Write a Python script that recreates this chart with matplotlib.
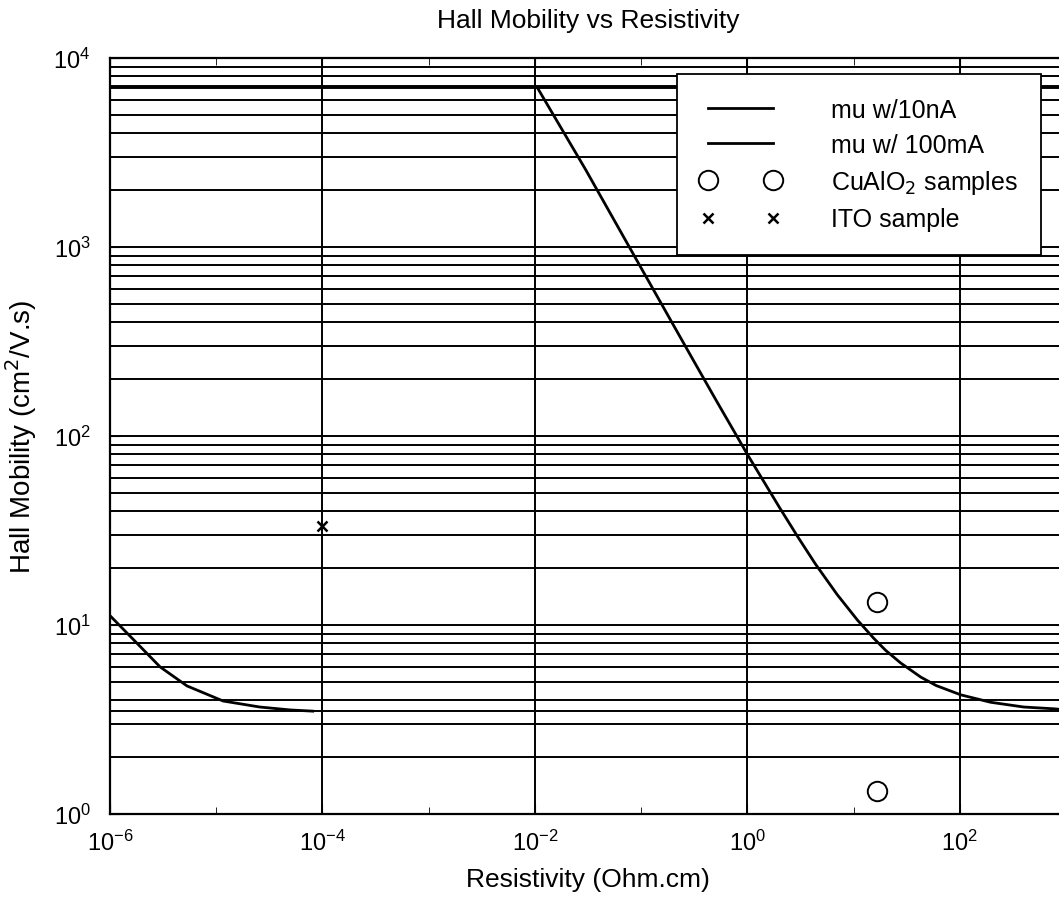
import matplotlib
matplotlib.use("Agg")
import matplotlib.pyplot as plt
from matplotlib.ticker import FixedLocator, NullFormatter

plt.rcParams['font.family'] = ['Liberation Sans', 'DejaVu Sans']

# mu w/10nA
rho_10nA = [1e-6, 1.65e-6, 2.96e-6, 5.3e-6, 1.16e-5, 2.57e-5, 5e-5, 8.1e-5]
mu_10nA = [11.2, 8.4, 6.0, 4.76, 3.96, 3.68, 3.55, 3.5]

# mu w/ 100mA
rho_100mA = [1.05e-2, 0.03, 0.1, 0.3, 0.5, 1.0, 2.0, 2.97, 4.38, 7.0, 10.9, 15.5, 20,
             27.7, 42.9, 60, 102, 195, 400, 776, 1000]
mu_100mA = [7000, 2570, 775, 260, 157, 80, 42, 29.4, 21, 14.5, 10.6, 8.5, 7.35,
            6.3, 5.3, 4.78, 4.27, 3.9, 3.68, 3.6, 3.55]

# samples
cualo2_rho = [16.5, 16.5]
cualo2_mu = [13.2, 1.32]
ito_rho = [1e-4]
ito_mu = [33.4]

# horizontal reference lines seen across the plot
hline_mu = [7000, 3.5]

xlim = (1e-6, 1e3)
ylim = (1, 1e4)

fig = plt.figure(figsize=(10.59, 9.04), dpi=100)
ax = fig.add_axes([0.1039, 0.0985, 0.9027, 0.8362])
ax.set_xscale('log')
ax.set_yscale('log')
ax.set_xlim(*xlim)
ax.set_ylim(*ylim)

# grid: vertical every 2 decades, horizontal at every 1..9 step
ax.xaxis.set_major_locator(FixedLocator([1e-6, 1e-4, 1e-2, 1e0, 1e2]))
ax.xaxis.set_minor_locator(FixedLocator([1e-5, 1e-3, 1e-1, 1e1, 1e3]))
ax.xaxis.set_minor_formatter(NullFormatter())
ax.grid(True, which='major', axis='both', color='black', lw=1.4, ls='-')
ax.grid(True, which='minor', axis='y', color='black', lw=1.4, ls='-')
ax.set_axisbelow(True)

ax.plot(xlim, [hline_mu[0]] * 2, color='black', lw=2.8)
ax.plot(xlim, [hline_mu[1]] * 2, color='black', lw=1.4)

l1, = ax.plot(rho_10nA, mu_10nA, color='black', lw=2.0, label='mu w/10nA')
l2, = ax.plot(rho_100mA, mu_100mA, color='black', lw=2.0, label='mu w/ 100mA')
s1, = ax.plot(cualo2_rho, cualo2_mu, 'o', ms=14, mfc='white', mec='black', mew=1.4,
              label='CuAlO$_2$ samples')
s2, = ax.plot(ito_rho, ito_mu, 'x', ms=7, color='black', mew=1.8, label='ITO sample')

ax.tick_params(which='both', direction='in', labelsize=17, top=True, right=True)
ax.tick_params(which='major', length=7)
ax.tick_params(axis='x', which='major', pad=11)
ax.tick_params(axis='y', which='major', pad=14)
ax.tick_params(which='minor', length=5)
ax.tick_params(axis='y', which='minor', length=0)
for sp in ax.spines.values():
    sp.set_linewidth(1.6)

ax.set_title('Hall Mobility vs Resistivity', fontsize=19, pad=22)
ax.set_xlabel('Resistivity (Ohm.cm)', fontsize=19, labelpad=9)
ax.set_ylabel('Hall Mobility (cm$^2$/V.s)', fontsize=20, labelpad=10)

leg = ax.legend(handles=[l1, l2, s1, s2], loc='upper right', bbox_to_anchor=(0.974, 0.979),
                numpoints=2, handlelength=3.2, handletextpad=2.0, fontsize=18,
                fancybox=False, framealpha=1, edgecolor='black', borderpad=0.95,
                labelspacing=0.45, borderaxespad=0)
leg.get_frame().set_linewidth(1.3)

fig.savefig('out.png', dpi=100)
